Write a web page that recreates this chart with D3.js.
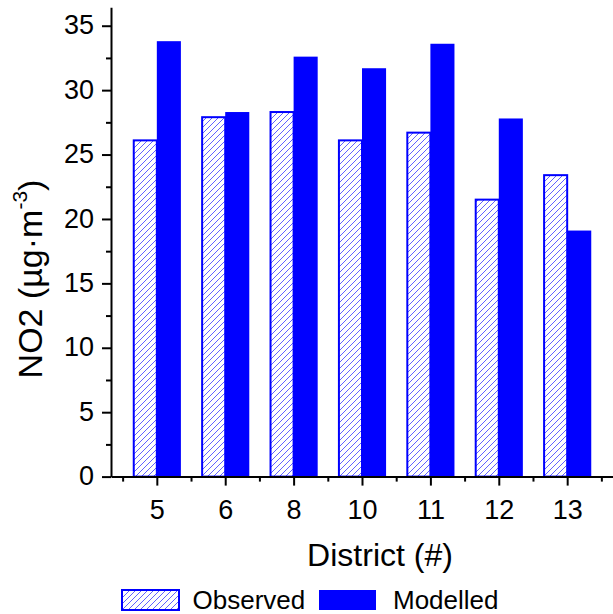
<!DOCTYPE html>
<html>
<head>
<meta charset="utf-8">
<script src="https://cdn.jsdelivr.net/npm/d3@7/dist/d3.min.js"></script>
<style>
  html, body { margin: 0; padding: 0; background: #fff; }
  svg { display: block; font-family: "Liberation Sans", Arial, sans-serif; }
</style>
</head>
<body>
<svg id="chart" width="613" height="614"></svg>
<script>
// District labels along the x axis
const districts = ["5", "6", "8", "10", "11", "12", "13"];
// NO2 concentrations (µg·m⁻³)
const observed = [26.1, 27.9, 28.3, 26.1, 26.7, 21.5, 23.4];
const modelled = [33.8, 28.3, 32.6, 31.7, 33.6, 27.8, 19.1];
const yTicks = [0, 5, 10, 15, 20, 25, 30, 35];
const seriesNames = ["Observed", "Modelled"];

const svg = d3.select("#chart");
const blue = "#0000ff";

const x = d3.scaleLinear().domain([-0.67, 6.67]).range([111, 613]);
const y = d3.scaleLinear().domain([0, 36.43]).range([476.6, 7.3]);
const barW = 0.352; // bar width in category units

// hatch for the observed bars
const defs = svg.append("defs");
const pat = defs.append("pattern")
  .attr("id", "hatch")
  .attr("patternUnits", "userSpaceOnUse")
  .attr("width", 6).attr("height", 6);
pat.append("rect").attr("width", 6).attr("height", 6).attr("fill", "#fff");
pat.append("path")
  .attr("d", "M-1,1 L1,-1 M0,6 L6,0 M5,7 L7,5")
  .attr("stroke", "#5050ff").attr("stroke-width", 0.9);

// bars
const bars = svg.append("g");
districts.forEach((d, i) => {
  const x0 = x(i - barW), xc = x(i), x1 = x(i + barW);
  bars.append("rect")
    .attr("x", x0 + 1).attr("y", y(observed[i]))
    .attr("width", xc - x0 - 1).attr("height", y(0) - y(observed[i]))
    .attr("fill", "url(#hatch)").attr("stroke", blue).attr("stroke-width", 2);
  bars.append("rect")
    .attr("x", xc).attr("y", y(modelled[i]))
    .attr("width", x1 - xc).attr("height", y(0) - y(modelled[i]))
    .attr("fill", blue);
});

// y axis with minor ticks
const yMinor = d3.range(2.5, 36, 5);
svg.append("g").attr("transform", "translate(111,0)")
  .call(d3.axisLeft(y).tickValues(yMinor).tickSize(5).tickFormat(""))
  .call(g => g.select(".domain").remove())
  .selectAll("line").attr("stroke", "#000").attr("stroke-width", 2);
const yAxis = svg.append("g").attr("transform", "translate(111,0)")
  .call(d3.axisLeft(y).tickValues(yTicks).tickSize(9).tickSizeOuter(0).tickPadding(8));
yAxis.select(".domain").attr("stroke", "#000").attr("stroke-width", 2);
yAxis.selectAll("line").attr("stroke", "#000").attr("stroke-width", 2);
yAxis.selectAll("text").attr("font-size", 27).attr("font-family", "Liberation Sans, Arial, sans-serif")
  .attr("fill", "#000").attr("dy", "0.3em");

// x axis with minor ticks
const xMinor = d3.range(-0.5, 7, 1);
svg.append("g").attr("transform", "translate(0,476.6)")
  .call(d3.axisBottom(x).tickValues(xMinor).tickSize(5).tickFormat(""))
  .call(g => g.select(".domain").remove())
  .selectAll("line").attr("stroke", "#000").attr("stroke-width", 2);
const xAxis = svg.append("g").attr("transform", "translate(0,476.6)")
  .call(d3.axisBottom(x).tickValues(d3.range(districts.length))
    .tickFormat(i => districts[i]).tickSize(9).tickSizeOuter(0).tickPadding(8));
xAxis.select(".domain").attr("stroke", "#000").attr("stroke-width", 2);
xAxis.selectAll("line").attr("stroke", "#000").attr("stroke-width", 2);
xAxis.selectAll("text").attr("font-size", 27).attr("font-family", "Liberation Sans, Arial, sans-serif")
  .attr("fill", "#000").attr("dy", "0.95em");

// axis titles
svg.append("text")
  .attr("x", 380).attr("y", 566)
  .attr("text-anchor", "middle").attr("font-size", 32)
  .text("District (#)");

const yt = svg.append("text")
  .attr("transform", "translate(42,279) rotate(-90)")
  .attr("text-anchor", "middle").attr("font-size", 34);
yt.append("tspan").text("NO2 (µg·m");
yt.append("tspan").attr("font-size", 21).attr("dy", -15).text("-3");
yt.append("tspan").attr("dy", 15).text(")");

// legend
const legend = svg.append("g");
const legendItems = [
  { name: seriesNames[0], box: 121, text: 192.5, fill: "url(#hatch)", stroke: blue },
  { name: seriesNames[1], box: 318, text: 393, fill: blue, stroke: "none" }
];
legendItems.forEach(it => {
  legend.append("rect")
    .attr("x", it.box + 1).attr("y", 590).attr("width", 57).attr("height", 20)
    .attr("fill", it.fill).attr("stroke", it.stroke).attr("stroke-width", 2);
  legend.append("text")
    .attr("x", it.text).attr("y", 608.5).attr("font-size", 26)
    .text(it.name);
});
</script>
</body>
</html>
